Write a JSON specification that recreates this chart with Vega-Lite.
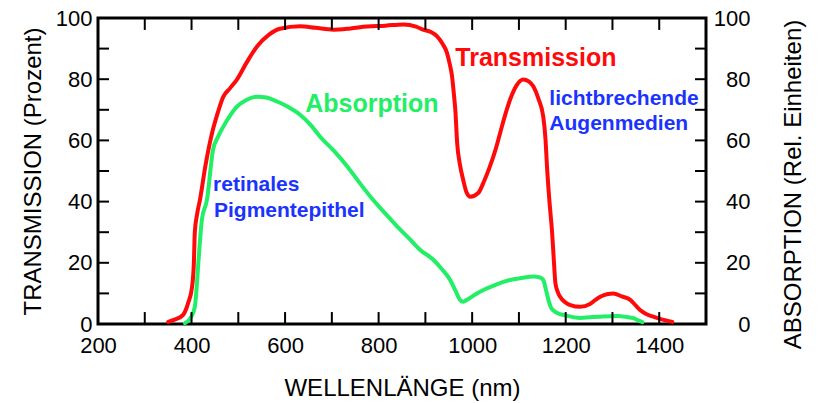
{
  "$schema": "https://vega.github.io/schema/vega-lite/v6.json",
  "width": 608,
  "height": 306,
  "autosize": {"type": "none"},
  "padding": {"left": 98, "top": 18, "right": 115, "bottom": 79},
  "background": "white",
  "config": {
    "view": {"stroke": "black", "strokeWidth": 3},
    "scale": {"continuousPadding": 0},
    "axis": {
      "domain": false,
      "ticks": false,
      "grid": false,
      "labelFont": "Liberation Sans",
      "labelFontSize": 22,
      "labelColor": "black",
      "labelFlush": false,
      "labelOverlap": false,
      "titleFont": "Liberation Sans",
      "titleFontSize": 24,
      "titleFontWeight": "normal",
      "titleColor": "black"
    }
  },
  "datasets": {
    "xticks": [
      {"nm": 300}, {"nm": 400}, {"nm": 500}, {"nm": 600}, {"nm": 700}, {"nm": 800}, {"nm": 900},
      {"nm": 1000}, {"nm": 1100}, {"nm": 1200}, {"nm": 1300}, {"nm": 1400}
    ],
    "yticks": [
      {"value": 10}, {"value": 20}, {"value": 30}, {"value": 40}, {"value": 50},
      {"value": 60}, {"value": 70}, {"value": 80}, {"value": 90}
    ],
    "curves": [
      {"nm": 350, "value": 0.7, "series": "Transmission"},
      {"nm": 365, "value": 1.5, "series": "Transmission"},
      {"nm": 382, "value": 3, "series": "Transmission"},
      {"nm": 393, "value": 7, "series": "Transmission"},
      {"nm": 401, "value": 12, "series": "Transmission"},
      {"nm": 405, "value": 20, "series": "Transmission"},
      {"nm": 407, "value": 30, "series": "Transmission"},
      {"nm": 412, "value": 36, "series": "Transmission"},
      {"nm": 418, "value": 40.6, "series": "Transmission"},
      {"nm": 430, "value": 52, "series": "Transmission"},
      {"nm": 444, "value": 62.5, "series": "Transmission"},
      {"nm": 456, "value": 69, "series": "Transmission"},
      {"nm": 468, "value": 74.3, "series": "Transmission"},
      {"nm": 482, "value": 77, "series": "Transmission"},
      {"nm": 497, "value": 79.9, "series": "Transmission"},
      {"nm": 518, "value": 85.5, "series": "Transmission"},
      {"nm": 540, "value": 90.7, "series": "Transmission"},
      {"nm": 565, "value": 94.5, "series": "Transmission"},
      {"nm": 589, "value": 96.5, "series": "Transmission"},
      {"nm": 632, "value": 97.3, "series": "Transmission"},
      {"nm": 665, "value": 96.8, "series": "Transmission"},
      {"nm": 703, "value": 96.2, "series": "Transmission"},
      {"nm": 740, "value": 96.6, "series": "Transmission"},
      {"nm": 775, "value": 97.2, "series": "Transmission"},
      {"nm": 815, "value": 97.5, "series": "Transmission"},
      {"nm": 853, "value": 97.9, "series": "Transmission"},
      {"nm": 880, "value": 97.2, "series": "Transmission"},
      {"nm": 895, "value": 96.2, "series": "Transmission"},
      {"nm": 912, "value": 95.4, "series": "Transmission"},
      {"nm": 925, "value": 94, "series": "Transmission"},
      {"nm": 937, "value": 91.5, "series": "Transmission"},
      {"nm": 946, "value": 88.7, "series": "Transmission"},
      {"nm": 952, "value": 85, "series": "Transmission"},
      {"nm": 957, "value": 81, "series": "Transmission"},
      {"nm": 961, "value": 75, "series": "Transmission"},
      {"nm": 964, "value": 70, "series": "Transmission"},
      {"nm": 968, "value": 59, "series": "Transmission"},
      {"nm": 974, "value": 52, "series": "Transmission"},
      {"nm": 981, "value": 47, "series": "Transmission"},
      {"nm": 988, "value": 43, "series": "Transmission"},
      {"nm": 996, "value": 41.6, "series": "Transmission"},
      {"nm": 1013, "value": 42.8, "series": "Transmission"},
      {"nm": 1025, "value": 46.5, "series": "Transmission"},
      {"nm": 1038, "value": 51.5, "series": "Transmission"},
      {"nm": 1050, "value": 57, "series": "Transmission"},
      {"nm": 1060, "value": 62.5, "series": "Transmission"},
      {"nm": 1070, "value": 68, "series": "Transmission"},
      {"nm": 1081, "value": 73.3, "series": "Transmission"},
      {"nm": 1095, "value": 78, "series": "Transmission"},
      {"nm": 1109, "value": 79.9, "series": "Transmission"},
      {"nm": 1121, "value": 79.3, "series": "Transmission"},
      {"nm": 1131, "value": 77.6, "series": "Transmission"},
      {"nm": 1142, "value": 73.5, "series": "Transmission"},
      {"nm": 1152, "value": 67.8, "series": "Transmission"},
      {"nm": 1157, "value": 60, "series": "Transmission"},
      {"nm": 1160, "value": 51.5, "series": "Transmission"},
      {"nm": 1165, "value": 40.6, "series": "Transmission"},
      {"nm": 1171, "value": 29.8, "series": "Transmission"},
      {"nm": 1175, "value": 20, "series": "Transmission"},
      {"nm": 1178, "value": 13.4, "series": "Transmission"},
      {"nm": 1183, "value": 10.5, "series": "Transmission"},
      {"nm": 1188, "value": 8.9, "series": "Transmission"},
      {"nm": 1200, "value": 7, "series": "Transmission"},
      {"nm": 1210, "value": 6.2, "series": "Transmission"},
      {"nm": 1231, "value": 5.6, "series": "Transmission"},
      {"nm": 1252, "value": 6.5, "series": "Transmission"},
      {"nm": 1263, "value": 7.8, "series": "Transmission"},
      {"nm": 1274, "value": 8.9, "series": "Transmission"},
      {"nm": 1290, "value": 9.8, "series": "Transmission"},
      {"nm": 1302, "value": 10, "series": "Transmission"},
      {"nm": 1320, "value": 9, "series": "Transmission"},
      {"nm": 1338, "value": 7.9, "series": "Transmission"},
      {"nm": 1350, "value": 6, "series": "Transmission"},
      {"nm": 1359, "value": 4.6, "series": "Transmission"},
      {"nm": 1372, "value": 3.3, "series": "Transmission"},
      {"nm": 1387, "value": 2.4, "series": "Transmission"},
      {"nm": 1405, "value": 1.5, "series": "Transmission"},
      {"nm": 1428, "value": 0.7, "series": "Transmission"},
      {"nm": 386, "value": 0.3, "series": "Absorption"},
      {"nm": 398, "value": 2, "series": "Absorption"},
      {"nm": 407, "value": 5.6, "series": "Absorption"},
      {"nm": 411, "value": 12, "series": "Absorption"},
      {"nm": 414, "value": 18.8, "series": "Absorption"},
      {"nm": 418, "value": 27, "series": "Absorption"},
      {"nm": 422, "value": 34, "series": "Absorption"},
      {"nm": 433, "value": 40.6, "series": "Absorption"},
      {"nm": 446, "value": 57, "series": "Absorption"},
      {"nm": 456, "value": 61, "series": "Absorption"},
      {"nm": 468, "value": 64.5, "series": "Absorption"},
      {"nm": 482, "value": 68, "series": "Absorption"},
      {"nm": 497, "value": 71, "series": "Absorption"},
      {"nm": 518, "value": 73.3, "series": "Absorption"},
      {"nm": 540, "value": 74.3, "series": "Absorption"},
      {"nm": 560, "value": 74, "series": "Absorption"},
      {"nm": 583, "value": 72.7, "series": "Absorption"},
      {"nm": 608, "value": 70.8, "series": "Absorption"},
      {"nm": 632, "value": 68.4, "series": "Absorption"},
      {"nm": 655, "value": 65, "series": "Absorption"},
      {"nm": 675, "value": 61.2, "series": "Absorption"},
      {"nm": 705, "value": 56.5, "series": "Absorption"},
      {"nm": 733, "value": 51.5, "series": "Absorption"},
      {"nm": 760, "value": 46, "series": "Absorption"},
      {"nm": 788, "value": 40.6, "series": "Absorption"},
      {"nm": 815, "value": 36, "series": "Absorption"},
      {"nm": 840, "value": 31.8, "series": "Absorption"},
      {"nm": 865, "value": 28, "series": "Absorption"},
      {"nm": 889, "value": 24.2, "series": "Absorption"},
      {"nm": 917, "value": 21, "series": "Absorption"},
      {"nm": 935, "value": 18, "series": "Absorption"},
      {"nm": 953, "value": 14.4, "series": "Absorption"},
      {"nm": 964, "value": 11, "series": "Absorption"},
      {"nm": 974, "value": 7.9, "series": "Absorption"},
      {"nm": 981, "value": 7.3, "series": "Absorption"},
      {"nm": 989, "value": 7.9, "series": "Absorption"},
      {"nm": 1005, "value": 9.5, "series": "Absorption"},
      {"nm": 1024, "value": 11.1, "series": "Absorption"},
      {"nm": 1050, "value": 12.8, "series": "Absorption"},
      {"nm": 1081, "value": 14.4, "series": "Absorption"},
      {"nm": 1105, "value": 15, "series": "Absorption"},
      {"nm": 1131, "value": 15.5, "series": "Absorption"},
      {"nm": 1145, "value": 15.2, "series": "Absorption"},
      {"nm": 1152, "value": 14.4, "series": "Absorption"},
      {"nm": 1158, "value": 11, "series": "Absorption"},
      {"nm": 1163, "value": 7.9, "series": "Absorption"},
      {"nm": 1170, "value": 5, "series": "Absorption"},
      {"nm": 1182, "value": 3.6, "series": "Absorption"},
      {"nm": 1200, "value": 2.8, "series": "Absorption"},
      {"nm": 1231, "value": 2, "series": "Absorption"},
      {"nm": 1252, "value": 2.2, "series": "Absorption"},
      {"nm": 1274, "value": 2.4, "series": "Absorption"},
      {"nm": 1310, "value": 2.6, "series": "Absorption"},
      {"nm": 1330, "value": 2.3, "series": "Absorption"},
      {"nm": 1345, "value": 1.9, "series": "Absorption"},
      {"nm": 1355, "value": 1.2, "series": "Absorption"},
      {"nm": 1364, "value": 0.6, "series": "Absorption"}
    ],
    "notes": [
      {"nm": 964, "value": 84.2, "text": "Transmission", "series": "Transmission", "kind": "big"},
      {"nm": 643, "value": 69.4, "text": "Absorption", "series": "Absorption", "kind": "big"},
      {"nm": 446, "value": 43.6, "text": "retinales", "series": "Gewebe", "kind": "small"},
      {"nm": 448, "value": 35.1, "text": "Pigmentepithel", "series": "Gewebe", "kind": "small"},
      {"nm": 1165, "value": 71.7, "text": "lichtbrechende", "series": "Gewebe", "kind": "small"},
      {"nm": 1165, "value": 63.5, "text": "Augenmedien", "series": "Gewebe", "kind": "small"}
    ]
  },
  "layer": [
    {
      "layer": [
        {
          "data": {"name": "curves"},
          "mark": {"type": "line", "strokeWidth": 4, "interpolate": "monotone", "strokeJoin": "round", "strokeCap": "round"},
          "encoding": {
            "x": {
              "field": "nm", "type": "quantitative",
              "scale": {"domain": [200, 1500], "nice": false, "zero": false, "padding": 0},
              "axis": {
                "orient": "bottom",
                "title": "WELLENLÄNGE (nm)",
                "values": [200, 400, 600, 800, 1000, 1200, 1400],
                "format": "d",
                "labelPadding": 11,
                "titleX": 304,
                "titleY": 71,
                "titleBaseline": "alphabetic"
              }
            },
            "y": {
              "field": "value", "type": "quantitative",
              "scale": {"domain": [0, 100], "nice": false, "zero": false, "padding": 0},
              "axis": {
                "orient": "left",
                "title": "TRANSMISSION (Prozent)",
                "values": [0, 20, 40, 60, 80, 100],
                "labelPadding": 6,
                "titleAngle": -90,
                "titleX": -58,
                "titleY": 153,
                "titleBaseline": "alphabetic"
              }
            },
            "color": {
              "field": "series", "type": "nominal",
              "scale": {"domain": ["Transmission", "Absorption", "Gewebe"], "range": ["#ff0a0a", "#22ee66", "#1a33ff"]},
              "legend": null
            }
          }
        },
        {
          "data": {"name": "xticks"},
          "mark": {"type": "bar", "color": "black", "size": 2, "orient": "vertical"},
          "encoding": {
            "x": {"field": "nm", "type": "quantitative"},
            "y": {"datum": 0, "type": "quantitative"},
            "y2": {"datum": 3.9}
          }
        },
        {
          "data": {"name": "xticks"},
          "mark": {"type": "bar", "color": "black", "size": 2, "orient": "vertical"},
          "encoding": {
            "x": {"field": "nm", "type": "quantitative"},
            "y": {"datum": 96.1, "type": "quantitative"},
            "y2": {"datum": 100}
          }
        },
        {
          "data": {"name": "yticks"},
          "mark": {"type": "bar", "color": "black", "size": 2, "orient": "horizontal"},
          "encoding": {
            "y": {"field": "value", "type": "quantitative"},
            "x": {"datum": 200, "type": "quantitative"},
            "x2": {"datum": 223.5}
          }
        },
        {
          "data": {"name": "yticks"},
          "mark": {"type": "bar", "color": "black", "size": 2, "orient": "horizontal"},
          "encoding": {
            "y": {"field": "value", "type": "quantitative"},
            "x": {"datum": 1476.5, "type": "quantitative"},
            "x2": {"datum": 1500}
          }
        }
      ]
    },
    {
      "data": {"name": "notes"},
      "mark": {"type": "text", "align": "left", "baseline": "alphabetic", "font": "Liberation Sans", "fontWeight": "bold"},
      "encoding": {
        "x": {
          "field": "nm", "type": "quantitative",
          "scale": {"domain": [200, 1500], "nice": false, "zero": false},
          "axis": null
        },
        "y": {
          "field": "value", "type": "quantitative",
          "scale": {"domain": [0, 100], "nice": false, "zero": false},
          "axis": {
            "orient": "right",
            "title": "ABSORPTION (Rel. Einheiten)",
            "values": [0, 20, 40, 60, 80, 100],
            "labelPadding": 44,
            "labelAlign": "right",
            "titleAngle": -90,
            "titleX": 94,
            "titleY": 166,
            "titleBaseline": "alphabetic"
          }
        },
        "text": {"field": "text", "type": "nominal"},
        "color": {
          "field": "series", "type": "nominal",
          "scale": {"domain": ["Transmission", "Absorption", "Gewebe"], "range": ["#ff0a0a", "#22ee66", "#1a33ff"]},
          "legend": null
        },
        "size": {
          "field": "kind", "type": "nominal",
          "scale": {"domain": ["big", "small"], "range": [25, 21]},
          "legend": null
        }
      }
    }
  ],
  "resolve": {"scale": {"x": "independent", "y": "independent"}}
}
